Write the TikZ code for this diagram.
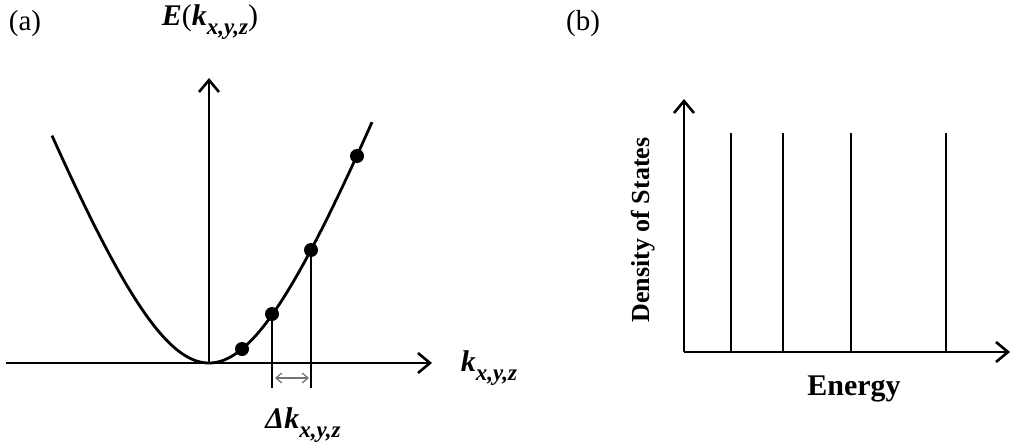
\documentclass[tikz,border=0pt]{standalone}
\usepackage{fontspec}
\setmainfont{Liberation Serif}
\usetikzlibrary{arrows.meta,calc}
\newcommand{\fsz}[1]{\fontsize{#1}{#1}\selectfont}
\newcommand{\kxyz}[1]{\textbf{\textit{k}}\raisebox{-0.3em}{\fsz{#1}\textbf{\textit{x,y,z}}}}
\begin{document}
\begin{tikzpicture}[x=1pt,y=-1pt,
  axis/.style={line width=2.8pt, -{Straight Barb[length=12pt,width=20pt,line width=2.6pt]}},
  curve/.style={line width=2.8pt},
  dropline/.style={line width=2.8pt},
  level/.style={line width=2.8pt},
  dot/.style={circle, fill=black, inner sep=0pt, minimum size=14pt},
  lbl/.style={inner sep=0pt, font=\fsz{29}},
  deltaarrow/.style={draw=black!55, line width=1.2pt, {Straight Barb[length=6pt,width=10pt]}-{Straight Barb[length=6pt,width=10pt]}}
]
\useasboundingbox (0,0) rectangle (1011,444);

% ---------- panel (a) ----------
\coordinate (o) at (209,363);
\coordinate (xl) at (6,363);
\coordinate (xr) at (432,363);
\coordinate (yt) at (209,78);
\draw[axis] (xl) -- (xr);
\draw[axis] (o) -- (yt);

\draw[curve] plot[domain=-157:163, samples=120, smooth]
  ({209+\x},{363-264*(sqrt(1+(\x/100)^2)-1)});

\node[dot] (d1) at (242,349) {};
\node[dot] (d2) at (272,314) {};
\node[dot] (d3) at (311,250) {};
\node[dot] (d4) at (357,156) {};

\coordinate (d2b) at (272,388);
\coordinate (d3b) at (311,388);
\draw[dropline] (d2.center) -- (d2b);
\draw[dropline] (d3.center) -- (d3b);

\coordinate (dl) at (275,378);
\coordinate (dr) at (309,378);
\draw[deltaarrow] (dl) -- (dr);

\node[lbl] (la) at (25,24) {(a)};
\node[inner sep=0pt, font=\fsz{30}] (ey) at (210,22) {\textbf{\textit{E}}(\kxyz{23})};
\node[inner sep=0pt, font=\fsz{30}] (kx) at (489,368) {\kxyz{23}};
\node[inner sep=0pt, font=\fsz{30}] (dk) at (303,425) {\textbf{\textit{Δ}}\kxyz{23}};

% ---------- panel (b) ----------
\coordinate (bo) at (684,352);
\coordinate (bxr) at (1010,352);
\coordinate (byt) at (684,99);
\draw[axis] (bo) -- (bxr);
\draw[axis] (bo) -- (byt);

\foreach \n/\xx in {1/731,2/783,3/851,4/946}{
  \coordinate (lt\n) at (\xx,133);
  \coordinate (lb\n) at (\xx,352);
  \draw[level] (lb\n) -- (lt\n);
}

\node[lbl] (lb) at (583,24) {(b)};
\node[inner sep=0pt, font=\fsz{26}\bfseries, rotate=90] (dos) at (643,230) {Density of States};
\node[inner sep=0pt, font=\fsz{30}\bfseries] (en) at (854,389) {Energy};
\end{tikzpicture}
\end{document}
